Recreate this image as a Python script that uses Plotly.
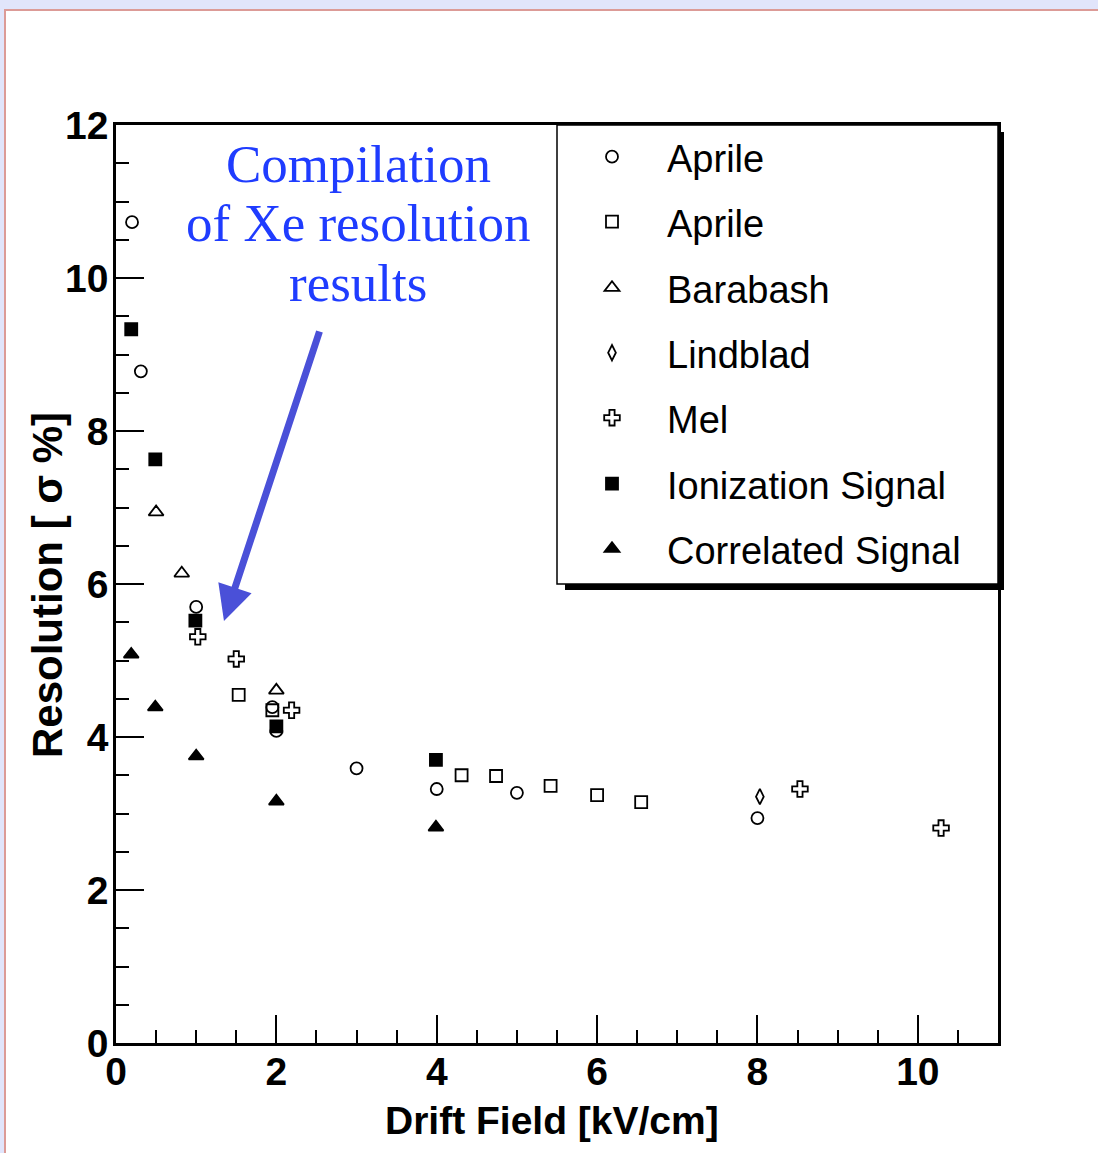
import plotly.graph_objects as go

# ---------------- data ----------------
aprile1_x = [0.2, 0.31, 1.0, 1.95, 2.0, 3.0, 4.0, 5.0, 8.0]
aprile1_y = [10.73, 8.78, 5.70, 4.39, 4.08, 3.59, 3.32, 3.27, 2.94]

aprile2_x = [1.53, 1.95, 4.31, 4.74, 5.42, 6.0, 6.55]
aprile2_y = [4.55, 4.35, 3.50, 3.49, 3.36, 3.24, 3.15]

barabash_x = [0.5, 0.82, 2.0]
barabash_y = [6.94, 6.14, 4.61]

lindblad_x = [8.03]
lindblad_y = [3.22]

mel_x = [1.02, 1.5, 2.19, 8.53, 10.29]
mel_y = [5.31, 5.02, 4.35, 3.32, 2.81]

ion_x = [0.19, 0.49, 0.99, 2.0, 3.99]
ion_y = [9.33, 7.63, 5.52, 4.14, 3.70]

corr_x = [0.19, 0.49, 1.0, 2.0, 3.99]
corr_y = [5.08, 4.39, 3.75, 3.16, 2.82]

series_names = ["Aprile", "Aprile", "Barabash", "Lindblad", "Mel",
                "Ionization Signal", "Correlated Signal"]

x_ticks = [0, 2, 4, 6, 8, 10]
y_ticks = [0, 2, 4, 6, 8, 10, 12]

# ---------------- geometry helpers ----------------
W, H = 1098, 1153
L, R, T, B = 116, 998, 125, 1043


def px(xp):
    return (xp - L) / (R - L)


def py(yp):
    return (B - yp) / (B - T)


BLACK = "black"
SANS = "Liberation Sans, Arial, sans-serif"

fig = go.Figure()

specs = [
    (aprile1_x, aprile1_y, "circle-open", 12),
    (aprile2_x, aprile2_y, "square-open", 12),
    (barabash_x, barabash_y, "triangle-up-open", 13),
    (lindblad_x, lindblad_y, "diamond-tall-open", 11),
    (mel_x, mel_y, "cross-open", 13),
    (ion_x, ion_y, "square", 12),
    (corr_x, corr_y, "triangle-up", 13),
]

legend_ids = ["legend"] + [f"legend{i}" for i in range(2, 8)]

for i, ((xs, ys, sym, sz), name) in enumerate(zip(specs, series_names)):
    fig.add_trace(go.Scatter(
        x=xs, y=ys, mode="markers", name=name, legend=legend_ids[i],
        marker=dict(symbol=sym, size=sz, color=BLACK,
                    line=dict(color=BLACK, width=1.8)),
    ))

shapes = [
    # page frame
    dict(type="rect", xref="paper", yref="paper", layer="below",
         x0=px(6), x1=px(W + 5), y0=py(11), y1=py(H + 5),
         fillcolor="white", line=dict(width=0)),
    dict(type="line", xref="paper", yref="paper", layer="below",
         x0=px(4), x1=px(W + 5), y0=py(10), y1=py(10),
         line=dict(color="#dc9b97", width=2)),
    dict(type="line", xref="paper", yref="paper", layer="below",
         x0=px(5), x1=px(5), y0=py(10), y1=py(H + 5),
         line=dict(color="#dc9b97", width=2)),
    # legend shadow + box
    dict(type="rect", xref="paper", yref="paper", layer="above",
         x0=px(565), x1=px(1004), y0=py(132), y1=py(590),
         fillcolor="black", line=dict(width=0)),
    dict(type="rect", xref="paper", yref="paper", layer="above",
         x0=px(557), x1=px(998), y0=py(125), y1=py(584),
         fillcolor="white", line=dict(color="black", width=1.5)),
]

annotations = []
blue = "#1f3cff"
for txt, yp in [("Compilation", 164), ("of Xe resolution", 223), ("results", 283)]:
    annotations.append(dict(
        text=txt, xref="paper", yref="paper", x=px(358), y=py(yp),
        xanchor="center", yanchor="middle", showarrow=False,
        font=dict(family="Liberation Serif, Times New Roman, serif", size=53, color=blue)))

# arrow
annotations.append(dict(
    text="", xref="x", yref="y", x=(224 - L) / 80.2, y=(B - 621) / 76.5,
    ax=96, ay=-291, axref="pixel", ayref="pixel",
    showarrow=True, arrowhead=2, arrowsize=1.0, arrowwidth=7,
    arrowcolor="#4a50d8", standoff=0))

# axis titles
annotations.append(dict(
    text="<b>Drift Field [kV/cm]</b>", xref="paper", yref="paper",
    x=px(552), y=py(1120), xanchor="center", yanchor="middle", showarrow=False,
    font=dict(family=SANS, size=39, color=BLACK)))
annotations.append(dict(
    text="<b>Resolution [ σ %]</b>", xref="paper", yref="paper",
    x=px(47), y=py(585), xanchor="center", yanchor="middle", showarrow=False,
    textangle=-90, font=dict(family=SANS, size=42, color=BLACK)))

axis_common = dict(
    showgrid=False, zeroline=False, showline=True, linecolor=BLACK, linewidth=2.5,
    mirror=True, ticks="inside", tickcolor=BLACK, tickwidth=1.5, ticklen=28,
    tickfont=dict(family=SANS, size=39, color=BLACK),
    minor=dict(ticks="inside", dtick=0.5, ticklen=13, tickcolor=BLACK, tickwidth=1.5),
)

layout_kwargs = dict(
    width=W, height=H,
    margin=dict(l=L, r=W - R, t=T, b=H - B),
    paper_bgcolor="#e1e5fb", plot_bgcolor="white",
    xaxis=dict(range=[0, 11], tickvals=x_ticks, ticktext=[f"<b>{v}</b>" for v in x_ticks],
               ticklabelstandoff=-8, **axis_common),
    yaxis=dict(range=[0, 12], tickvals=y_ticks, ticktext=[f"<b>{v}</b>" for v in y_ticks],
               ticklabelstandoff=-3, **axis_common),
    showlegend=True,
    shapes=shapes, annotations=annotations,
)

row_centers = [157, 222, 288, 353, 418, 484, 549]
for lid, yc in zip(legend_ids, row_centers):
    layout_kwargs[lid] = dict(
        x=0.5, xanchor="left", y=py(yc), yanchor="middle",
        bgcolor="rgba(0,0,0,0)", borderwidth=0,
        font=dict(family=SANS, size=38, color=BLACK),
        itemwidth=100)

fig.update_layout(**layout_kwargs)

fig.write_html("out.html")
